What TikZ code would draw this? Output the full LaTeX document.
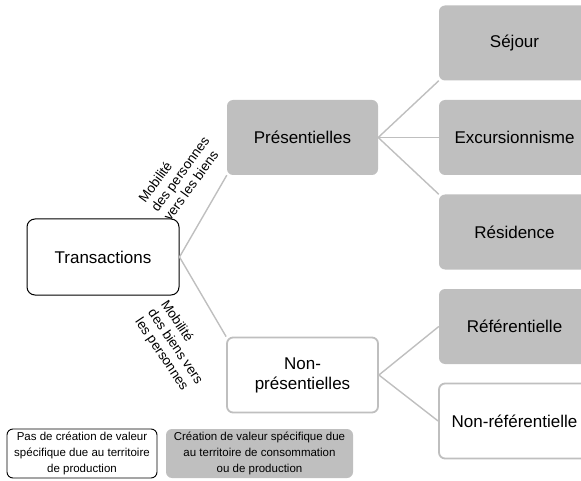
\documentclass[tikz,border=0pt]{standalone}
\usepackage{fontspec}
\setmainfont{Liberation Sans}
\usepackage{tikz}
\definecolor{boxgray}{HTML}{BFBFBF}

\begin{document}
\begin{tikzpicture}[x=1pt,y=-1pt,
  box/.style={rectangle,rounded corners=6pt,minimum width=151pt,minimum height=75pt,inner sep=2pt,align=center,font=\fontsize{17}{20}\selectfont},
  full/.style={box,fill=boxgray},
  empty/.style={box,draw=boxgray,line width=1.8pt,fill=white},
  link/.style={draw=boxgray,line width=1.4pt},
  slant/.style={align=left,inner sep=0pt,font=\fontsize{13.5}{15.5}\selectfont},
  legend/.style={rectangle,rounded corners=6pt,minimum height=49pt,inner sep=2pt,align=center,font=\fontsize{11.5}{15.8}\selectfont}]
\useasboundingbox (0,0) rectangle (581,481);
\clip (0,0) rectangle (581,481);
% niveau 1
\node[box,draw=black,line width=1pt,minimum width=152pt,minimum height=76pt,rounded corners=8pt] (trans) at (103,257) {Transactions};
% niveau 2
\node[full] (pres) at (302.5,137.5) {Présentielles};
\node[empty] (nonpres) at (302.5,375) {Non-\\présentielles};
% niveau 3
\node[full] (sejour) at (514.5,43) {Séjour};
\node[full] (excu) at (514.5,137.5) {Excursionnisme};
\node[full] (resid) at (514.5,232) {Résidence};
\node[full] (refer) at (514.5,326.5) {Référentielle};
\node[empty] (nonrefer) at (514.5,421) {Non-référentielle};
% liens
\draw[link] (trans.east) -- (pres.south west);
\draw[link] (trans.east) -- (nonpres.north west);
\draw[link] (pres.east) -- (sejour.south west);
\draw[link] (pres.east) -- (excu.west);
\draw[link] (pres.east) -- (resid.north west);
\draw[link] (nonpres.east) -- (refer.west);
\draw[link] (nonpres.east) -- (nonrefer.west);
% etiquettes
\node[slant,rotate=54] (lab1) at (180,174) {Mobilité\\des personnes\\vers les biens};
\node[slant,rotate=-56] (lab2) at (175,347) {Mobilité\\des biens vers\\les personnes};
% legende
\node[legend,draw=black,line width=0.9pt,minimum width=150pt] (leg1) at (82,453.5) {Pas de création de valeur\\spécifique due au territoire\\de production};
\node[legend,fill=boxgray,minimum width=187pt] (leg2) at (259.5,453.5) {Création de valeur spécifique due\\au territoire de consommation\\ou de production};
\end{tikzpicture}
\end{document}
